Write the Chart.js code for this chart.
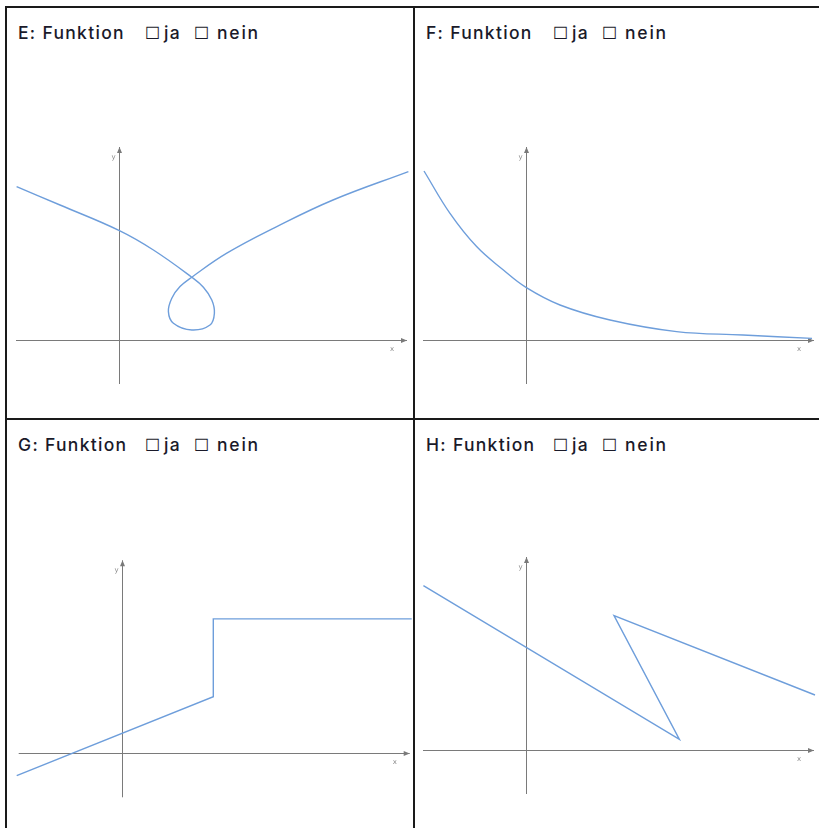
<!DOCTYPE html>
<html>
<head>
<meta charset="utf-8">
<script src="https://cdn.jsdelivr.net/npm/chart.js@4.4.1/dist/chart.umd.min.js"></script>
<style>
  html, body { margin: 0; padding: 0; background: #fff; }
  #sheet { position: relative; width: 819px; height: 828px; overflow: hidden; background: #fff; }
  .rule { position: absolute; background: #1a1a1a; }
  .ttl { position: absolute; font-family: Inter, "DejaVu Sans", sans-serif; font-weight: 500; font-size: 17.5px;
         line-height: 20px; letter-spacing: 1.3px; color: #1a1a2a; white-space: pre; }
  .ttl.box { font-family: "DejaVu Sans", sans-serif; font-weight: bold; font-size: 17px; letter-spacing: 0; }
  .ttl.wide { letter-spacing: 1.8px; }
  canvas { position: absolute; }
</style>
</head>
<body>
<div id="sheet"></div>
<script>
// curve points per graph, in axis units (x, y)
const curveE_x = [-5.12, -2.95, 0.02, 1.72, 3.64, 4.22, 4.64, 4.77, 4.55, 3.64, 2.72, 2.47, 2.64, 3.05, 3.64, 5.39, 7.89, 10.7, 14.47];
const curveE_y = [7.67, 6.75, 5.47, 4.50, 3.14, 2.64, 2.00, 1.34, 0.75, 0.50, 0.84, 1.42, 2.09, 2.67, 3.14, 4.34, 5.67, 7.00, 8.42];

const curveF_x = [-5.1, -3.8, -2.47, -1.13, 0, 1.7, 4.2, 7.53, 10.85, 14.3];
const curveF_y = [8.45, 6.33, 4.67, 3.50, 2.63, 1.75, 1.00, 0.42, 0.25, 0.08];

const curveG_x = [-5.25, 4.58, 4.58, 14.5];
const curveG_y = [-1.12, 2.83, 6.72, 6.72];

const curveH_x = [-5.13, 7.67, 4.40, 14.45];
const curveH_y = [8.22, 0.53, 6.72, 2.75];

// extent of the drawn coordinate axes
const axisX = [-5.15, 14.4];
const axisY = [-2.2, 9.65];

const letters = ["E", "F", "G", "H"];
const titleParts = [": Funktion", "\u2610", "ja", "\u2610", "nein"];

const UNIT = 20; // px per axis unit
const CURVE_COLOR = "#6e9edb";
const AXIS_COLOR = "#7a7a7a";

// frame lines of the 2x2 sheet
const rules = [
  { left: 5, top: 6, width: 814, height: 2 },
  { left: 5, top: 6, width: 2, height: 822 },
  { left: 413, top: 6, width: 2, height: 822 },
  { left: 5, top: 418, width: 814, height: 2 }
];

const panels = [
  { frame: [6, 6],     box: [8, 50, 405, 368],   origin: [119, 340],     xs: curveE_x, ys: curveE_y, tension: 0.4 },
  { frame: [414, 6],   box: [416, 50, 403, 368], origin: [526, 340],     xs: curveF_x, ys: curveF_y, tension: 0.4 },
  { frame: [6, 418],   box: [8, 470, 405, 358],  origin: [121.7, 753.3], xs: curveG_x, ys: curveG_y, tension: 0 },
  { frame: [414, 418], box: [416, 470, 403, 358], origin: [526, 750],    xs: curveH_x, ys: curveH_y, tension: 0 }
];

// horizontal offsets of the title pieces inside a frame
const titleOffsets = [12, 139, 158, 188, 211];

const sheet = document.getElementById("sheet");

rules.forEach(r => {
  const d = document.createElement("div");
  d.className = "rule";
  Object.assign(d.style, { left: r.left + "px", top: r.top + "px", width: r.width + "px", height: r.height + "px" });
  sheet.appendChild(d);
});

// coordinate cross with arrow tips and small x / y labels
const axesCross = {
  id: "axesCross",
  beforeDatasetsDraw(chart) {
    const { ctx, scales: { x, y } } = chart;
    const x0 = Math.round(x.getPixelForValue(0)) + 0.5;
    const y0 = Math.round(y.getPixelForValue(0)) + 0.5;
    const [xl, xr] = axisX.map(v => x.getPixelForValue(v));
    const [yb, yt] = axisY.map(v => y.getPixelForValue(v));

    ctx.save();
    ctx.strokeStyle = AXIS_COLOR;
    ctx.fillStyle = AXIS_COLOR;
    ctx.lineWidth = 1;
    ctx.beginPath();
    ctx.moveTo(xl, y0); ctx.lineTo(xr, y0);
    ctx.moveTo(x0, yb); ctx.lineTo(x0, yt);
    ctx.stroke();

    ctx.beginPath();
    ctx.moveTo(xr, y0); ctx.lineTo(xr - 6, y0 - 2.5); ctx.lineTo(xr - 6, y0 + 2.5); ctx.closePath();
    ctx.moveTo(x0, yt); ctx.lineTo(x0 - 2.5, yt + 6); ctx.lineTo(x0 + 2.5, yt + 6); ctx.closePath();
    ctx.fill();

    ctx.fillStyle = "#8a8a8a";
    ctx.font = "7px 'DejaVu Sans'";
    ctx.textAlign = "center";
    ctx.textBaseline = "middle";
    ctx.fillText("x", xr - 15, y0 + 9);
    ctx.fillText("y", x0 - 6, yt + 10);
    ctx.restore();
  }
};

panels.forEach((p, i) => {
  // title row
  titleParts.forEach((part, j) => {
    const s = document.createElement("span");
    s.className = (j === 1 || j === 3) ? "ttl box" : (j === 4 ? "ttl wide" : "ttl");
    s.textContent = j === 0 ? letters[i] + part : part;
    s.style.left = (p.frame[0] + titleOffsets[j]) + "px";
    s.style.top = (p.frame[1] + 17) + "px";
    sheet.appendChild(s);
  });

  const [left, top, w, h] = p.box;
  const [ox, oy] = p.origin;
  const cv = document.createElement("canvas");
  cv.width = w; cv.height = h;
  cv.style.left = left + "px"; cv.style.top = top + "px";
  cv.style.width = w + "px"; cv.style.height = h + "px";
  sheet.appendChild(cv);

  new Chart(cv, {
    type: "scatter",
    data: {
      datasets: [{
        data: p.xs.map((xv, k) => ({ x: xv, y: p.ys[k] })),
        showLine: true,
        borderColor: CURVE_COLOR,
        borderWidth: 1.4,
        pointRadius: 0,
        tension: p.tension
      }]
    },
    options: {
      responsive: false,
      animation: false,
      events: [],
      layout: { padding: 0 },
      plugins: { legend: { display: false }, tooltip: { enabled: false } },
      scales: {
        x: { type: "linear", display: false, min: (left - ox) / UNIT, max: (left + w - ox) / UNIT },
        y: { type: "linear", display: false, min: (oy - top - h) / UNIT, max: (oy - top) / UNIT }
      }
    },
    plugins: [axesCross]
  });
});
</script>
</body>
</html>
